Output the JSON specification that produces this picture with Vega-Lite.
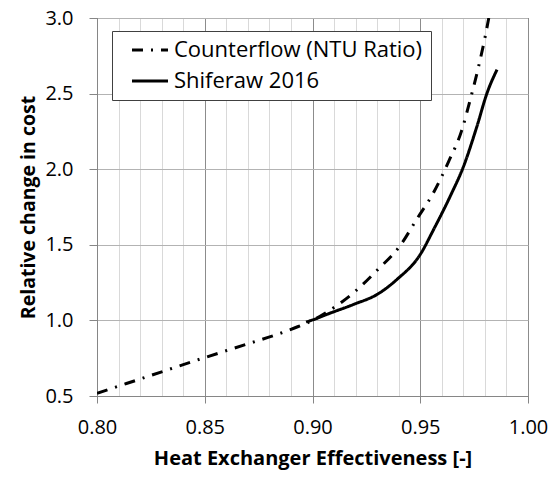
{
  "$schema": "https://vega.github.io/schema/vega-lite/v6.json",
  "autosize": {"type": "none"},
  "width": 431,
  "height": 378,
  "padding": {"left": 97, "top": 18, "right": 26, "bottom": 81},
  "background": "white",
  "config": {
    "view": {"stroke": "#000000", "strokeWidth": 1},
    "font": "Open Sans"
  },
  "data": {
    "values": [
      {"e": 0.800, "v": 0.518, "s": "Counterflow (NTU Ratio)"},
      {"e": 0.825, "v": 0.636, "s": "Counterflow (NTU Ratio)"},
      {"e": 0.850, "v": 0.754, "s": "Counterflow (NTU Ratio)"},
      {"e": 0.870, "v": 0.845, "s": "Counterflow (NTU Ratio)"},
      {"e": 0.8835, "v": 0.907, "s": "Counterflow (NTU Ratio)"},
      {"e": 0.8931, "v": 0.958, "s": "Counterflow (NTU Ratio)"},
      {"e": 0.900, "v": 1.000, "s": "Counterflow (NTU Ratio)"},
      {"e": 0.9067, "v": 1.055, "s": "Counterflow (NTU Ratio)"},
      {"e": 0.9191, "v": 1.183, "s": "Counterflow (NTU Ratio)"},
      {"e": 0.930, "v": 1.332, "s": "Counterflow (NTU Ratio)"},
      {"e": 0.9405, "v": 1.491, "s": "Counterflow (NTU Ratio)"},
      {"e": 0.9485, "v": 1.672, "s": "Counterflow (NTU Ratio)"},
      {"e": 0.9565, "v": 1.854, "s": "Counterflow (NTU Ratio)"},
      {"e": 0.9632, "v": 2.052, "s": "Counterflow (NTU Ratio)"},
      {"e": 0.9691, "v": 2.250, "s": "Counterflow (NTU Ratio)"},
      {"e": 0.9732, "v": 2.460, "s": "Counterflow (NTU Ratio)"},
      {"e": 0.9769, "v": 2.669, "s": "Counterflow (NTU Ratio)"},
      {"e": 0.9802, "v": 2.882, "s": "Counterflow (NTU Ratio)"},
      {"e": 0.9818, "v": 3.000, "s": "Counterflow (NTU Ratio)"},
      {"e": 0.897, "v": 0.990, "s": "Shiferaw 2016"},
      {"e": 0.900, "v": 1.003, "s": "Shiferaw 2016"},
      {"e": 0.9067, "v": 1.040, "s": "Shiferaw 2016"},
      {"e": 0.9191, "v": 1.106, "s": "Shiferaw 2016"},
      {"e": 0.930, "v": 1.172, "s": "Shiferaw 2016"},
      {"e": 0.9392, "v": 1.271, "s": "Shiferaw 2016"},
      {"e": 0.950, "v": 1.436, "s": "Shiferaw 2016"},
      {"e": 0.9562, "v": 1.601, "s": "Shiferaw 2016"},
      {"e": 0.9639, "v": 1.821, "s": "Shiferaw 2016"},
      {"e": 0.9701, "v": 2.019, "s": "Shiferaw 2016"},
      {"e": 0.9763, "v": 2.283, "s": "Shiferaw 2016"},
      {"e": 0.981, "v": 2.504, "s": "Shiferaw 2016"},
      {"e": 0.9856, "v": 2.658, "s": "Shiferaw 2016"}
    ]
  },
  "mark": {"type": "line", "color": "#000000", "strokeWidth": 3, "interpolate": "monotone", "clip": true},
  "encoding": {
    "x": {
      "field": "e", "type": "quantitative",
      "scale": {"domain": [0.8, 1.0], "nice": false, "zero": false},
      "axis": {
        "title": "Heat Exchanger Effectiveness [-]",
        "values": [0.80,0.81,0.82,0.83,0.84,0.85,0.86,0.87,0.88,0.89,0.90,0.91,0.92,0.93,0.94,0.95,0.96,0.97,0.98,0.99,1.00],
        "labelExpr": "round(datum.value*100) % 5 == 0 ? format(datum.value, '.2f') : ''",
        "labelFontSize": 20, "labelColor": "#000000", "labelPadding": 14, "labelFlush": false, "labelOverlap": false,
        "titleFontSize": 20, "titleFontWeight": "bold", "titleColor": "#000000", "titlePadding": 11,
        "domainColor": "#868686", "domainWidth": 1,
        "tickSize": 7, "tickColor": "#868686",
        "tickOpacity": {"condition": {"test": "round(datum.value*100) % 5 == 0", "value": 1}, "value": 0},
        "grid": true,
        "gridColor": {"condition": {"test": "round(datum.value*100) % 5 == 0", "value": "#8c8c8c"}, "value": "#d9d9d9"},
        "gridWidth": 1
      }
    },
    "y": {
      "field": "v", "type": "quantitative",
      "scale": {"domain": [0.5, 3.0], "nice": false, "zero": false},
      "axis": {
        "title": "Relative change in cost",
        "values": [0.5, 1.0, 1.5, 2.0, 2.5, 3.0],
        "format": ".1f",
        "labelFontSize": 20, "labelColor": "#000000", "labelPadding": 16,
        "titleFontSize": 19.5, "titleFontWeight": "bold", "titleColor": "#000000", "titlePadding": 6,
        "domainColor": "#868686", "domainWidth": 1,
        "tickSize": 8, "tickColor": "#868686",
        "grid": true, "gridColor": "#b3b3b3", "gridWidth": 1
      }
    },
    "strokeDash": {
      "field": "s", "type": "nominal",
      "scale": {"domain": ["Counterflow (NTU Ratio)", "Shiferaw 2016"], "range": [[11, 8, 2, 8], [1, 0]]},
      "legend": {
        "title": null,
        "orient": "none", "legendX": 15, "legendY": 13,
        "fillColor": "#ffffff", "strokeColor": "#404040",
        "padding": 8, "rowPadding": 9,
        "symbolType": "M-2,0H2", "symbolSize": 324, "symbolStrokeWidth": 3, "symbolStrokeColor": "#000000",
        "symbolOffset": 19,
        "labelFontSize": 22, "labelColor": "#000000", "labelOffset": 13, "labelLimit": 400
      }
    }
  }
}
